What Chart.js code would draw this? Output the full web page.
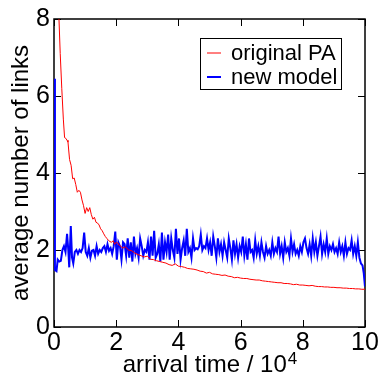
<!DOCTYPE html>
<html>
<head>
<meta charset="utf-8">
<script src="https://cdn.jsdelivr.net/npm/chart.js@4.4.1/dist/chart.umd.min.js"></script>
<style>
  html, body { margin: 0; padding: 0; background: #fff; }
  #wrap { width: 382px; height: 386px; }
</style>
</head>
<body>
<div id="wrap"><canvas id="chart"></canvas></div>
<script>
const xTicks = [0, 2, 4, 6, 8, 10];
const yTicks = [0, 2, 4, 6, 8];
const seriesNames = ['original PA', 'new model'];
const seriesColors = ['#ff0000', '#0000ff'];

// [arrival time / 10^4, average number of links]
const originalPA = [
  [0.1, 9.2], [0.16, 8.0], [0.2, 7.1], [0.25, 6.2], [0.3, 5.4], [0.34, 4.92], [0.38, 4.9],
  [0.42, 4.85], [0.45, 4.8], [0.5, 4.35], [0.55, 4.2], [0.6, 3.85], [0.65, 3.87], [0.7, 3.7],
  [0.75, 3.5], [0.8, 3.55], [0.85, 3.5], [0.9, 3.3], [0.95, 3.15], [1.0, 2.95], [1.05, 3.1],
  [1.1, 3.0], [1.15, 3.1], [1.2, 2.92], [1.25, 2.8], [1.3, 2.85], [1.35, 2.72], [1.4, 2.7],
  [1.45, 2.65], [1.5, 2.55], [1.55, 2.5], [1.6, 2.42], [1.65, 2.35], [1.7, 2.3], [1.75, 2.25],
  [1.8, 2.22], [1.85, 2.2], [1.9, 2.24], [1.95, 2.15], [2.0, 2.2], [2.05, 2.18], [2.1, 2.12],
  [2.15, 2.1], [2.2, 2.05], [2.3, 2.08], [2.4, 2.0], [2.5, 1.98], [2.6, 1.92], [2.7, 1.88],
  [2.8, 1.85], [2.9, 1.82], [3.0, 1.84], [3.1, 1.76], [3.2, 1.75], [3.3, 1.72], [3.4, 1.7],
  [3.5, 1.68], [3.6, 1.66], [3.7, 1.62], [3.8, 1.6], [3.9, 1.64], [4.0, 1.58], [4.1, 1.57],
  [4.2, 1.55], [4.3, 1.52], [4.4, 1.51], [4.5, 1.5], [4.6, 1.48], [4.7, 1.45], [4.8, 1.44],
  [4.9, 1.4], [5.0, 1.42], [5.1, 1.38], [5.2, 1.37], [5.3, 1.36], [5.4, 1.34], [5.5, 1.35],
  [5.6, 1.32], [5.7, 1.31], [5.8, 1.28], [5.9, 1.29], [6.0, 1.27], [6.1, 1.26], [6.2, 1.26],
  [6.3, 1.24], [6.4, 1.23], [6.5, 1.22], [6.6, 1.22], [6.7, 1.2], [6.8, 1.19], [6.9, 1.18],
  [7.0, 1.17], [7.1, 1.16], [7.2, 1.15], [7.3, 1.15], [7.4, 1.13], [7.5, 1.13], [7.6, 1.12],
  [7.7, 1.1], [7.8, 1.11], [7.9, 1.09], [8.0, 1.09], [8.1, 1.08], [8.2, 1.07], [8.3, 1.08],
  [8.4, 1.06], [8.5, 1.05], [8.6, 1.05], [8.7, 1.04], [8.8, 1.04], [8.9, 1.03], [9.0, 1.03],
  [9.1, 1.02], [9.2, 1.02], [9.3, 1.01], [9.4, 1.01], [9.5, 1.0], [9.6, 1.0], [9.7, 0.99],
  [9.8, 0.99], [9.9, 0.98], [10.0, 0.98]
];

const newModel = [
  [0, 6.45], [0.03, 1.48], [0.08, 1.45], [0.12, 1.75], [0.17, 1.7], [0.22, 1.72], [0.27, 2.0],
  [0.32, 2.1], [0.37, 1.95], [0.42, 2.42], [0.46, 2.0], [0.49, 1.55], [0.54, 2.62], [0.58, 1.8],
  [0.62, 1.65], [0.67, 1.95], [0.72, 2.0], [0.77, 1.9], [0.82, 2.0], [0.87, 1.95], [0.92, 2.05],
  [0.97, 2.45], [1.02, 1.95], [1.07, 1.85], [1.12, 2.05], [1.17, 1.8], [1.22, 1.98], [1.27, 2.0],
  [1.32, 1.85], [1.37, 2.1], [1.42, 1.9], [1.47, 2.0], [1.52, 1.95], [1.57, 2.05], [1.62, 2.1],
  [1.67, 1.95], [1.72, 2.15], [1.77, 1.98], [1.82, 2.05], [1.87, 1.9], [1.92, 2.1], [1.97, 2.48],
  [2.02, 1.75], [2.07, 2.2], [2.12, 2.1], [2.17, 1.75], [2.22, 2.2], [2.27, 2.15], [2.32, 1.85],
  [2.37, 2.3], [2.42, 1.8], [2.47, 2.2], [2.52, 1.7], [2.57, 2.35], [2.62, 1.9], [2.67, 2.05],
  [2.72, 1.8], [2.77, 2.3], [2.82, 2.1], [2.87, 1.85], [2.92, 2.0], [2.97, 1.95], [3.02, 2.2],
  [3.07, 1.75], [3.12, 2.35], [3.17, 1.85], [3.22, 2.5], [3.27, 1.8], [3.32, 1.9], [3.37, 2.15],
  [3.42, 1.7], [3.47, 2.45], [3.52, 1.75], [3.57, 2.2], [3.62, 1.95], [3.67, 2.4], [3.72, 1.75],
  [3.77, 2.3], [3.82, 2.0], [3.87, 1.8], [3.92, 2.55], [3.97, 1.9], [4.02, 2.3], [4.07, 1.75],
  [4.12, 2.05], [4.17, 2.25], [4.22, 1.85], [4.27, 2.55], [4.32, 1.95], [4.37, 2.05], [4.42, 1.8],
  [4.47, 2.3], [4.52, 2.0], [4.57, 2.05], [4.62, 2.02], [4.67, 2.1], [4.72, 2.4], [4.77, 2.0],
  [4.82, 2.1], [4.87, 2.05], [4.92, 2.3], [4.97, 2.0], [5.02, 2.2], [5.07, 1.85], [5.12, 2.35],
  [5.17, 2.1], [5.22, 1.8], [5.27, 2.3], [5.32, 1.95], [5.37, 2.15], [5.42, 1.85], [5.47, 2.2],
  [5.52, 2.0], [5.57, 1.8], [5.62, 2.3], [5.67, 2.05], [5.72, 1.75], [5.77, 2.25], [5.82, 1.9],
  [5.87, 2.15], [5.92, 1.8], [5.97, 2.1], [6.02, 1.95], [6.07, 2.35], [6.12, 1.85], [6.17, 2.15],
  [6.22, 1.75], [6.27, 2.3], [6.32, 1.95], [6.37, 2.0], [6.42, 1.8], [6.47, 2.25], [6.52, 1.9],
  [6.57, 2.1], [6.62, 1.85], [6.67, 2.2], [6.72, 1.95], [6.77, 1.8], [6.82, 2.1], [6.87, 1.9],
  [6.92, 2.0], [6.97, 1.85], [7.02, 2.2], [7.07, 1.9], [7.12, 2.05], [7.17, 1.95], [7.22, 2.35],
  [7.27, 1.9], [7.32, 2.1], [7.37, 1.8], [7.42, 2.2], [7.47, 1.95], [7.52, 2.05], [7.57, 1.85],
  [7.62, 2.3], [7.67, 1.95], [7.72, 2.15], [7.77, 1.9], [7.82, 2.0], [7.87, 1.85], [7.92, 2.1],
  [7.97, 1.95], [8.02, 2.2], [8.07, 2.3], [8.12, 2.05], [8.17, 1.9], [8.22, 2.15], [8.27, 1.85],
  [8.32, 2.3], [8.37, 1.95], [8.42, 2.2], [8.47, 1.85], [8.52, 2.1], [8.57, 2.35], [8.62, 1.9],
  [8.67, 2.15], [8.72, 1.95], [8.77, 2.3], [8.82, 1.9], [8.87, 2.1], [8.92, 2.0], [8.97, 2.15],
  [9.02, 1.95], [9.07, 2.05], [9.12, 1.9], [9.17, 2.2], [9.22, 1.95], [9.27, 2.1], [9.32, 1.85],
  [9.37, 2.2], [9.42, 1.9], [9.47, 2.05], [9.52, 2.0], [9.57, 2.25], [9.62, 1.9], [9.67, 2.1],
  [9.72, 1.85], [9.77, 2.2], [9.82, 1.8], [9.87, 1.65], [9.92, 1.6], [9.96, 1.4], [10.0, 1.05]
];

const FONT = '"Liberation Sans", Arial, sans-serif';

// frame + inward ticks on all four sides, drawn under the lines
const framePlugin = {
  id: 'frame',
  beforeDatasetsDraw(chart) {
    const { ctx, chartArea: a, scales } = chart;
    ctx.save();
    ctx.strokeStyle = '#000';
    ctx.lineWidth = 1.5;
    ctx.strokeRect(a.left, a.top, a.right - a.left, a.bottom - a.top);
    ctx.lineWidth = 1;
    ctx.beginPath();
    xTicks.forEach(v => {
      const px = Math.round(scales.x.getPixelForValue(v)) + 0.5;
      ctx.moveTo(px, a.bottom); ctx.lineTo(px, a.bottom - 7);
      ctx.moveTo(px, a.top); ctx.lineTo(px, a.top + 7);
    });
    yTicks.forEach(v => {
      const py = Math.round(scales.y.getPixelForValue(v)) + 0.5;
      ctx.moveTo(a.left, py); ctx.lineTo(a.left + 7, py);
      ctx.moveTo(a.right, py); ctx.lineTo(a.right - 7, py);
    });
    ctx.stroke();
    ctx.restore();
  },
  afterDraw(chart) {
    const { ctx, chartArea: a } = chart;
    ctx.save();
    // x axis title with superscript
    const main = 'arrival time / 10';
    ctx.font = '24px ' + FONT;
    const w1 = ctx.measureText(main).width;
    ctx.font = '17px ' + FONT;
    const w2 = ctx.measureText('4').width;
    const cx = (a.left + a.right) / 2;
    const x0 = cx - (w1 + w2) / 2;
    ctx.fillStyle = '#000';
    ctx.textBaseline = 'alphabetic';
    ctx.textAlign = 'left';
    ctx.font = '24px ' + FONT;
    ctx.fillText(main, x0, 372);
    ctx.font = '17px ' + FONT;
    ctx.fillText('4', x0 + w1 + 1, 364);

    // legend box inside the plot
    const bx = 200, by = 38, bw = 141, bh = 51;
    ctx.fillStyle = '#fff';
    ctx.fillRect(bx, by, bw, bh);
    ctx.strokeStyle = '#000';
    ctx.lineWidth = 1;
    ctx.strokeRect(bx + 0.5, by + 0.5, bw, bh);
    ctx.font = '22px ' + FONT;
    ctx.textBaseline = 'middle';
    chart.data.datasets.forEach((ds, i) => {
      const y = by + 15 + i * 24;
      ctx.strokeStyle = ds.borderColor;
      ctx.lineWidth = ds.borderWidth;
      ctx.beginPath();
      ctx.moveTo(bx + 7, y); ctx.lineTo(bx + 21, y);
      ctx.stroke();
      ctx.fillStyle = '#000';
      ctx.fillText(ds.label, bx + 31, y + 1);
    });
    ctx.restore();
  }
};

new Chart(document.getElementById('chart'), {
  type: 'line',
  data: {
    datasets: [
      {
        label: seriesNames[0],
        data: originalPA.map(p => ({ x: p[0], y: p[1] })),
        borderColor: seriesColors[0],
        borderWidth: 1,
        pointRadius: 0,
        tension: 0
      },
      {
        label: seriesNames[1],
        data: newModel.map(p => ({ x: p[0], y: p[1] })),
        borderColor: seriesColors[1],
        borderWidth: 2,
        pointRadius: 0,
        tension: 0
      }
    ]
  },
  options: {
    responsive: true,
    maintainAspectRatio: false,
    animation: false,
    layout: { padding: { top: 16, right: 17, left: 0, bottom: 0 } },
    plugins: { legend: { display: false }, tooltip: { enabled: false } },
    scales: {
      x: {
        type: 'linear',
        min: 0,
        max: 10,
        afterBuildTicks: s => { s.ticks = xTicks.map(v => ({ value: v })); },
        afterFit: s => { s.height = 59; },
        grid: { display: false, drawTicks: false },
        border: { display: false },
        ticks: { color: '#000', padding: 1, maxRotation: 0, font: { family: FONT, size: 25 } }
      },
      y: {
        min: 0,
        max: 8,
        afterBuildTicks: s => { s.ticks = yTicks.map(v => ({ value: v })); },
        afterFit: s => { s.width = 54; },
        grid: { display: false, drawTicks: false },
        border: { display: false },
        title: {
          display: true,
          text: 'average number of links',
          color: '#000',
          padding: { top: 7, bottom: 0 },
          font: { family: FONT, size: 24 }
        },
        ticks: { color: '#000', padding: 4, font: { family: FONT, size: 25 } }
      }
    }
  },
  plugins: [framePlugin]
});
</script>
</body>
</html>
